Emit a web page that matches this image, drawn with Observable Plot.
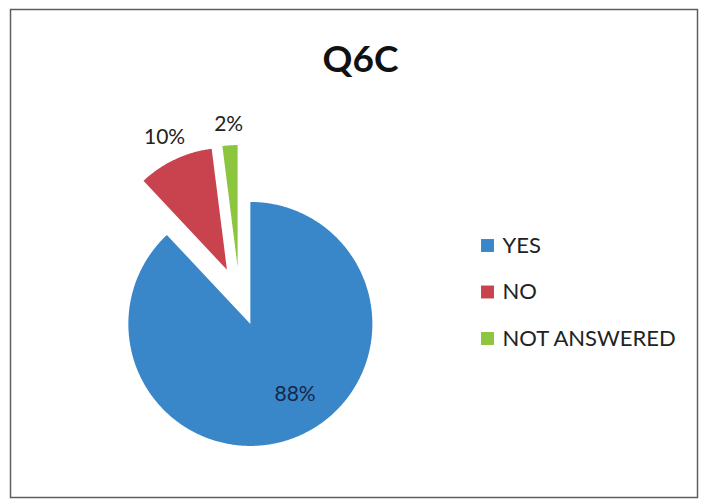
<!DOCTYPE html>
<html>
<head>
<meta charset="utf-8">
<script src="https://cdn.jsdelivr.net/npm/d3@7"></script>
<script src="https://cdn.jsdelivr.net/npm/@observablehq/plot@0.6"></script>
<style>
  html, body { margin: 0; padding: 0; background: #fff; }
  svg { display: block; }
</style>
</head>
<body>
<div id="chart"></div>
<script>
// ---- data ----
const title = "Q6C";
const categories = ["YES", "NO", "NOT ANSWERED"];
const values = [88, 10, 2];
const labels = ["88%", "10%", "2%"];
const colors = ["#3987c9", "#c9434f", "#8cc63f"];

// ---- layout constants ----
const W = 703, H = 503;
const cx = 239, cy = 296, R = 122, explode = 29.5;
const labelRadius = [0.68, 1.2, 1.17];
const labelAngleShift = [-11, 0, 0]; // degrees
const labelColors = ["#16284a", "#222", "#222"];
const legendX = 487, legendTextX = 502, legendY0 = 245, legendStep = 46.5;

const rows = categories.map((c, i) => ({category: c, value: values[i], label: labels[i], i}));
const arcs = d3.pie().sort(null).value(d => d.value)(rows);

const piePts = [];
const labelPts = [];
for (const a of arcs) {
  const mid = (a.startAngle + a.endAngle) / 2;
  const ox = cx + explode * Math.sin(mid);
  const oy = cy - explode * Math.cos(mid);
  const cat = a.data.category;
  piePts.push({category: cat, x: ox, y: oy});
  const n = Math.max(4, Math.ceil((a.endAngle - a.startAngle) / (Math.PI / 360)));
  for (let k = 0; k <= n; k++) {
    const t = a.startAngle + (a.endAngle - a.startAngle) * k / n;
    piePts.push({category: cat, x: ox + R * Math.sin(t), y: oy - R * Math.cos(t)});
  }
  piePts.push({category: cat, x: ox, y: oy});
  const la = mid + labelAngleShift[a.data.i] * Math.PI / 180;
  const lr = labelRadius[a.data.i] * R;
  labelPts.push({label: a.data.label, color: labelColors[a.data.i], x: ox + lr * Math.sin(la), y: oy - lr * Math.cos(la)});
}

const legendRows = rows.map((d, i) => ({category: d.category, y: legendY0 + i * legendStep}));

const font = "Lato, 'Open Sans', sans-serif";

const chart = Plot.plot({
  width: W,
  height: H,
  margin: 0,
  x: {domain: [0, W], range: [0, W], axis: null},
  y: {domain: [0, H], range: [0, H], axis: null},
  color: {domain: categories, range: colors},
  style: {background: "#fff", fontFamily: font},
  marks: [
    Plot.frame({stroke: "#5e5e5e", strokeWidth: 1.5, insetLeft: 10, insetTop: 9, insetRight: 6, insetBottom: 6}),
    Plot.line(piePts, {x: "x", y: "y", z: "category", fill: "category", stroke: "none", curve: "linear"}),
    Plot.text(labelPts, {x: "x", y: "y", text: "label", fill: "color", fontSize: 21, textAnchor: "middle", lineAnchor: "middle", fontFamily: font}),
    Plot.text([title], {x: 360, y: 60, text: d => d, fontSize: 37, fontWeight: "bold", fill: "#111", lineAnchor: "middle", fontFamily: font}),
    Plot.dot(legendRows, {x: legendX, y: "y", symbol: "square", r: 7.3, fill: "category", stroke: "none"}),
    Plot.text(legendRows, {x: legendTextX, y: "y", text: "category", textAnchor: "start", lineAnchor: "middle", fontSize: 22, fill: "#222", fontFamily: font})
  ]
});
document.getElementById("chart").appendChild(chart);
</script>
</body>
</html>
